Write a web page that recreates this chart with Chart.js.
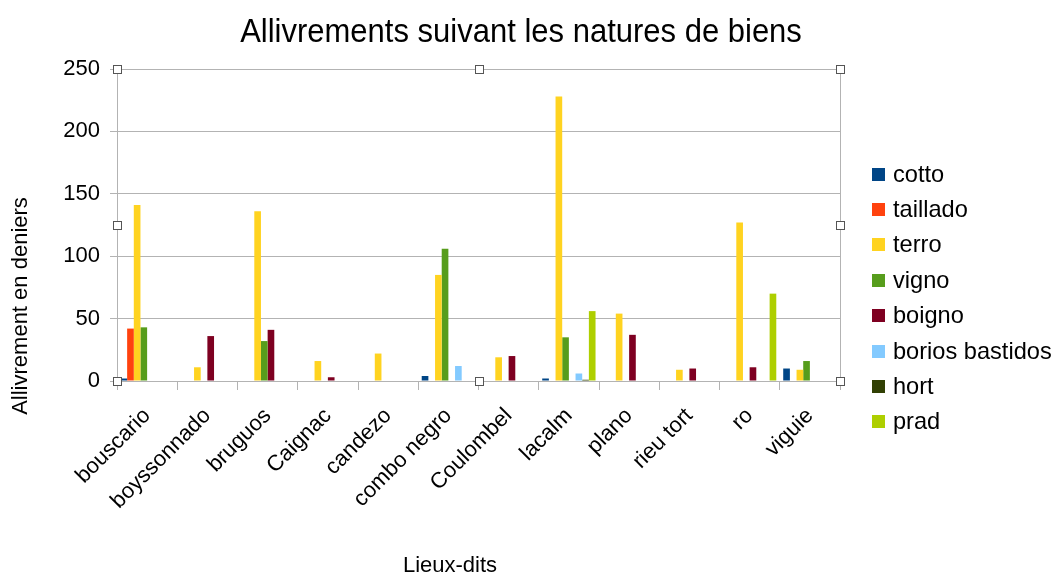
<!DOCTYPE html>
<html>
<head>
<meta charset="utf-8">
<script src="https://cdn.jsdelivr.net/npm/chart.js@4/dist/chart.umd.min.js"></script>
<style>
  html, body { margin: 0; padding: 0; background: #ffffff; }
  #wrap { width: 1055px; height: 579px; position: relative; }
</style>
</head>
<body>
<div id="wrap"><canvas id="c" width="1055" height="579"></canvas></div>
<script>
// Lieux-dits
const categories = ['bouscario', 'boyssonnado', 'bruguos', 'Caignac', 'candezo', 'combo negro',
                    'Coulombel', 'lacalm', 'plano', 'rieu tort', 'ro', 'viguie'];

// Allivrement en deniers, par nature de bien
const cotto          = [2, 0, 0, 0, 0, 4, 0, 2, 0, 0, 0, 10];
const taillado       = [42, 0, 0, 0, 0, 0, 0, 0, 0, 0, 0, 0];
const terro          = [141, 11, 136, 16, 22, 85, 19, 228, 54, 9, 127, 9];
const vigno          = [43, 0, 32, 0, 0, 106, 0, 35, 0, 0, 0, 16];
const boigno         = [0, 36, 41, 3, 0, 0, 20, 0, 37, 10, 11, 0];
const boriosBastidos = [0, 0, 0, 0, 0, 12, 0, 6, 0, 0, 0, 0];
const hort           = [0, 0, 0, 0, 0, 0, 0, 1, 0, 0, 0, 0];
const prad           = [0, 0, 0, 0, 0, 0, 0, 56, 0, 0, 70, 0];

const yTicks = [0, 50, 100, 150, 200, 250];

const seriesNames  = ['cotto', 'taillado', 'terro', 'vigno', 'boigno', 'borios bastidos', 'hort', 'prad'];
const seriesValues = [cotto, taillado, terro, vigno, boigno, boriosBastidos, hort, prad];
const seriesColors = ['#004586', '#ff420e', '#ffd320', '#579d1c', '#7e0021', '#83caff', '#314004', '#aecf00'];

const FONT = '"Liberation Sans", Arial, sans-serif';
const GRID = '#b3b3b3';

// Title, axis titles, legend, frame and selection handles
const decorations = {
  id: 'decorations',
  afterDraw(chart) {
    const ctx = chart.ctx;
    const a = chart.chartArea;
    ctx.save();

    // frame: right edge of the wall
    ctx.strokeStyle = GRID;
    ctx.lineWidth = 1;
    ctx.beginPath();
    ctx.moveTo(Math.round(a.right) + 0.5, a.top);
    ctx.lineTo(Math.round(a.right) + 0.5, a.bottom);
    ctx.stroke();

    // title
    ctx.fillStyle = '#000';
    ctx.textAlign = 'center';
    ctx.textBaseline = 'alphabetic';
    ctx.font = '31px ' + FONT;
    ctx.save();
    ctx.translate(521, 42);
    ctx.scale(1, 1.1);
    ctx.fillText('Allivrements suivant les natures de biens', 0, 0);
    ctx.restore();

    // axis titles
    ctx.font = '22px ' + FONT;
    ctx.textBaseline = 'middle';
    ctx.fillText('Lieux-dits', 450, 566);
    ctx.save();
    ctx.translate(21, 306);
    ctx.rotate(-Math.PI / 2);
    ctx.fillText('Allivrement en deniers', 0, 0);
    ctx.restore();

    // legend
    ctx.font = '23.6px ' + FONT;
    ctx.textAlign = 'left';
    chart.data.datasets.forEach((ds, i) => {
      const y = 174 + i * 35.4;
      ctx.fillStyle = ds.backgroundColor;
      ctx.fillRect(872, Math.round(y - 6.5), 13, 13);
      ctx.fillStyle = '#000';
      ctx.fillText(ds.label, 893, y + 1);
    });

    // selection handles
    const mx = Math.round((a.left + a.right) / 2);
    const my = Math.round((a.top + a.bottom) / 2);
    const pts = [[a.left, a.top], [mx, a.top], [a.right, a.top],
                 [a.left, my], [a.right, my],
                 [a.left, a.bottom], [mx, a.bottom], [a.right, a.bottom]];
    ctx.fillStyle = '#fff';
    ctx.strokeStyle = '#555';
    pts.forEach(([x, y]) => {
      const px = Math.round(x) - 4 + 0.5, py = Math.round(y) - 4 + 0.5;
      ctx.fillRect(px, py, 8, 8);
      ctx.strokeRect(px, py, 8, 8);
    });
    ctx.restore();
  }
};

new Chart(document.getElementById('c'), {
  type: 'bar',
  data: {
    labels: categories,
    datasets: seriesNames.map((name, i) => ({
      label: name,
      data: seriesValues[i],
      backgroundColor: seriesColors[i],
      borderWidth: 0,
      categoryPercentage: 0.885,
      barPercentage: 1.0
    }))
  },
  options: {
    responsive: false,
    animation: false,
    layout: { padding: { top: 69, right: 215, left: 0, bottom: 0 } },
    plugins: {
      legend: { display: false },
      title: { display: false },
      tooltip: { enabled: false }
    },
    scales: {
      x: {
        afterFit(s) { s.height = 198; },
        grid: { offset: true, drawOnChartArea: false, drawTicks: true, tickLength: 9, color: GRID },
        border: { color: GRID },
        ticks: {
          color: '#000',
          font: { family: FONT, size: 22 },
          minRotation: 45,
          maxRotation: 45,
          autoSkip: false,
          padding: 13
        }
      },
      y: {
        min: 0,
        max: 250,
        afterFit(s) { s.width = 117; },
        afterBuildTicks(s) { s.ticks = yTicks.map(v => ({ value: v })); },
        grid: { color: GRID, drawTicks: true, tickLength: 7 },
        border: { color: GRID },
        ticks: {
          color: '#000',
          font: { family: FONT, size: 22 },
          padding: 10
        }
      }
    }
  },
  plugins: [decorations]
});
</script>
</body>
</html>
